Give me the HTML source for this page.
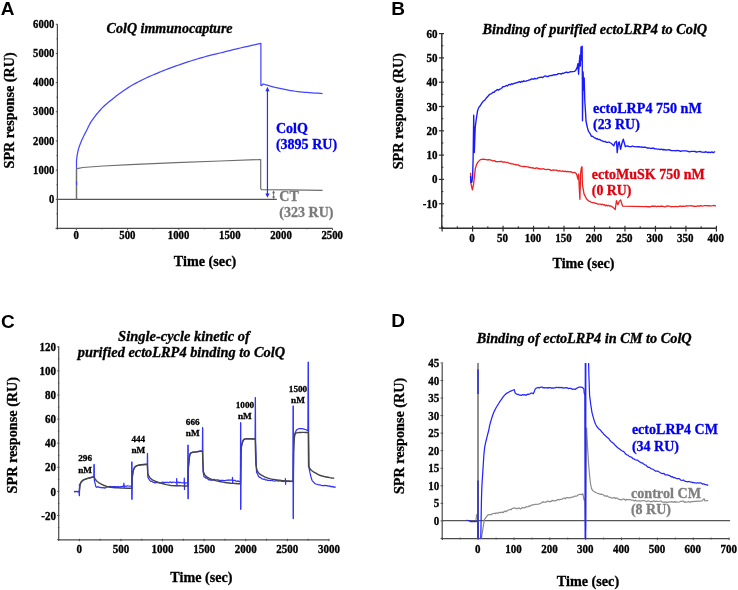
<!DOCTYPE html>
<html><head><meta charset="utf-8"><title>SPR figure</title>
<style>html,body{margin:0;padding:0;background:#fff;}svg{display:block;will-change:transform;}</style></head>
<body><svg width="738" height="590" viewBox="0 0 738 590">
<rect width="738" height="590" fill="#fff"/>
<text x="0.7" y="14.6" font-family='"Liberation Sans", sans-serif' font-size="19" font-weight="bold" fill="#000">A</text>
<line x1="57.4" y1="24.3" x2="57.4" y2="229.6" stroke="#4a4a4a" stroke-width="1.2"/>
<line x1="55.7" y1="228.4" x2="332.5" y2="228.4" stroke="#4a4a4a" stroke-width="1.2"/>
<line x1="55.8" y1="228.47" x2="57.4" y2="228.47" stroke="#4a4a4a" stroke-width="1.0"/>
<line x1="56.5" y1="213.89" x2="57.4" y2="213.89" stroke="#4a4a4a" stroke-width="1.0"/>
<line x1="55.8" y1="199.3" x2="57.4" y2="199.3" stroke="#4a4a4a" stroke-width="1.0"/>
<line x1="56.5" y1="184.72" x2="57.4" y2="184.72" stroke="#4a4a4a" stroke-width="1.0"/>
<line x1="55.8" y1="170.13" x2="57.4" y2="170.13" stroke="#4a4a4a" stroke-width="1.0"/>
<line x1="56.5" y1="155.55" x2="57.4" y2="155.55" stroke="#4a4a4a" stroke-width="1.0"/>
<line x1="55.8" y1="140.96" x2="57.4" y2="140.96" stroke="#4a4a4a" stroke-width="1.0"/>
<line x1="56.5" y1="126.38" x2="57.4" y2="126.38" stroke="#4a4a4a" stroke-width="1.0"/>
<line x1="55.8" y1="111.79" x2="57.4" y2="111.79" stroke="#4a4a4a" stroke-width="1.0"/>
<line x1="56.5" y1="97.21" x2="57.4" y2="97.21" stroke="#4a4a4a" stroke-width="1.0"/>
<line x1="55.8" y1="82.62" x2="57.4" y2="82.62" stroke="#4a4a4a" stroke-width="1.0"/>
<line x1="56.5" y1="68.03" x2="57.4" y2="68.03" stroke="#4a4a4a" stroke-width="1.0"/>
<line x1="55.8" y1="53.45" x2="57.4" y2="53.45" stroke="#4a4a4a" stroke-width="1.0"/>
<line x1="56.5" y1="38.87" x2="57.4" y2="38.87" stroke="#4a4a4a" stroke-width="1.0"/>
<line x1="55.8" y1="24.28" x2="57.4" y2="24.28" stroke="#4a4a4a" stroke-width="1.0"/>
<text x="0" y="0" transform="translate(54.3 202.88) scale(1 1.11)" font-family='"Liberation Serif", serif' font-size="10.6" font-weight="bold" fill="#000" stroke="#000" stroke-width="0.3" text-anchor="end">0</text>
<text x="0" y="0" transform="translate(54.3 173.71) scale(1 1.11)" font-family='"Liberation Serif", serif' font-size="10.6" font-weight="bold" fill="#000" stroke="#000" stroke-width="0.3" text-anchor="end">1000</text>
<text x="0" y="0" transform="translate(54.3 144.54) scale(1 1.11)" font-family='"Liberation Serif", serif' font-size="10.6" font-weight="bold" fill="#000" stroke="#000" stroke-width="0.3" text-anchor="end">2000</text>
<text x="0" y="0" transform="translate(54.3 115.37) scale(1 1.11)" font-family='"Liberation Serif", serif' font-size="10.6" font-weight="bold" fill="#000" stroke="#000" stroke-width="0.3" text-anchor="end">3000</text>
<text x="0" y="0" transform="translate(54.3 86.2) scale(1 1.11)" font-family='"Liberation Serif", serif' font-size="10.6" font-weight="bold" fill="#000" stroke="#000" stroke-width="0.3" text-anchor="end">4000</text>
<text x="0" y="0" transform="translate(54.3 57.03) scale(1 1.11)" font-family='"Liberation Serif", serif' font-size="10.6" font-weight="bold" fill="#000" stroke="#000" stroke-width="0.3" text-anchor="end">5000</text>
<text x="0" y="0" transform="translate(54.3 27.86) scale(1 1.11)" font-family='"Liberation Serif", serif' font-size="10.6" font-weight="bold" fill="#000" stroke="#000" stroke-width="0.3" text-anchor="end">6000</text>
<line x1="76.4" y1="228.4" x2="76.4" y2="230" stroke="#4a4a4a" stroke-width="1.0"/>
<line x1="102.01" y1="228.4" x2="102.01" y2="229.3" stroke="#4a4a4a" stroke-width="1.0"/>
<line x1="127.62" y1="228.4" x2="127.62" y2="230" stroke="#4a4a4a" stroke-width="1.0"/>
<line x1="153.24" y1="228.4" x2="153.24" y2="229.3" stroke="#4a4a4a" stroke-width="1.0"/>
<line x1="178.85" y1="228.4" x2="178.85" y2="230" stroke="#4a4a4a" stroke-width="1.0"/>
<line x1="204.46" y1="228.4" x2="204.46" y2="229.3" stroke="#4a4a4a" stroke-width="1.0"/>
<line x1="230.08" y1="228.4" x2="230.08" y2="230" stroke="#4a4a4a" stroke-width="1.0"/>
<line x1="255.69" y1="228.4" x2="255.69" y2="229.3" stroke="#4a4a4a" stroke-width="1.0"/>
<line x1="281.3" y1="228.4" x2="281.3" y2="230" stroke="#4a4a4a" stroke-width="1.0"/>
<line x1="306.91" y1="228.4" x2="306.91" y2="229.3" stroke="#4a4a4a" stroke-width="1.0"/>
<line x1="332.52" y1="228.4" x2="332.52" y2="230" stroke="#4a4a4a" stroke-width="1.0"/>
<text x="0" y="0" transform="translate(76.1 239.1) scale(1 1.11)" font-family='"Liberation Serif", serif' font-size="10.8" font-weight="bold" fill="#000" stroke="#000" stroke-width="0.3" text-anchor="middle">0</text>
<text x="0" y="0" transform="translate(127.33 239.1) scale(1 1.11)" font-family='"Liberation Serif", serif' font-size="10.8" font-weight="bold" fill="#000" stroke="#000" stroke-width="0.3" text-anchor="middle">500</text>
<text x="0" y="0" transform="translate(178.55 239.1) scale(1 1.11)" font-family='"Liberation Serif", serif' font-size="10.8" font-weight="bold" fill="#000" stroke="#000" stroke-width="0.3" text-anchor="middle">1000</text>
<text x="0" y="0" transform="translate(229.78 239.1) scale(1 1.11)" font-family='"Liberation Serif", serif' font-size="10.8" font-weight="bold" fill="#000" stroke="#000" stroke-width="0.3" text-anchor="middle">1500</text>
<text x="0" y="0" transform="translate(281 239.1) scale(1 1.11)" font-family='"Liberation Serif", serif' font-size="10.8" font-weight="bold" fill="#000" stroke="#000" stroke-width="0.3" text-anchor="middle">2000</text>
<text x="0" y="0" transform="translate(332.22 239.1) scale(1 1.11)" font-family='"Liberation Serif", serif' font-size="10.8" font-weight="bold" fill="#000" stroke="#000" stroke-width="0.3" text-anchor="middle">2500</text>
<line x1="57.4" y1="199.3" x2="276.8" y2="199.3" stroke="#555" stroke-width="1.2"/>
<path d="M76.5 199 L76.5 168 L76.5 160.5 L76.59 159.78 L76.7 158.8 L76.84 157.62 L77.01 156.36 L77.19 155.09 L77.4 153.9 L77.62 152.8 L77.84 151.71 L78.09 150.62 L78.38 149.5 L78.71 148.33 L79.1 147.1 L79.56 145.78 L80.08 144.39 L80.64 142.95 L81.24 141.49 L81.87 140.03 L82.5 138.6 L83.16 137.17 L83.87 135.73 L84.61 134.28 L85.34 132.86 L86.04 131.49 L86.7 130.2 L87.31 128.96 L87.91 127.75 L88.47 126.59 L89.01 125.5 L89.52 124.49 L90 123.6 L90.4 122.88 L90.73 122.33 L91.02 121.88 L91.33 121.42 L91.71 120.89 L92.2 120.2 L92.8 119.34 L93.47 118.39 L94.21 117.36 L95.01 116.27 L95.88 115.14 L96.8 114 L97.81 112.8 L98.91 111.53 L100.07 110.22 L101.26 108.91 L102.45 107.66 L103.6 106.5 L104.69 105.47 L105.73 104.54 L106.77 103.66 L107.85 102.77 L109.01 101.84 L110.3 100.8 L111.72 99.65 L113.23 98.42 L114.82 97.14 L116.49 95.83 L118.22 94.51 L120 93.2 L121.85 91.89 L123.79 90.55 L125.79 89.2 L127.83 87.86 L129.91 86.56 L132 85.3 L134.13 84.08 L136.33 82.89 L138.56 81.73 L140.78 80.61 L142.97 79.53 L145.1 78.5 L147.14 77.54 L149.11 76.65 L151.06 75.8 L153 74.97 L154.97 74.15 L157 73.3 L159.11 72.42 L161.29 71.53 L163.49 70.64 L165.7 69.76 L167.88 68.91 L170 68.1 L172.05 67.34 L174.03 66.63 L175.99 65.94 L177.96 65.27 L179.95 64.59 L182 63.9 L184.13 63.18 L186.33 62.44 L188.56 61.7 L190.78 60.97 L192.97 60.27 L195.1 59.6 L197.14 58.98 L199.11 58.39 L201.06 57.83 L203 57.29 L204.97 56.74 L207 56.2 L209.02 55.68 L210.98 55.19 L212.97 54.7 L215.09 54.19 L217.4 53.64 L220 53 L222.96 52.27 L226.22 51.45 L229.69 50.59 L233.26 49.7 L236.83 48.83 L240.3 48 L243.93 47.16 L247.85 46.27 L251.77 45.39 L255.41 44.58 L258.48 43.9 L260.7 43.4 L260.9 43.4 L260.9 85.4 L261.6 85.6 L263.1 84 L263.8 84.2 L264.78 84.48 L265.98 84.82 L267.3 85.2 L268.73 85.62 L270.32 86.09 L272.07 86.59 L274 87.1 L276.18 87.62 L278.57 88.16 L281.06 88.7 L283.5 89.2 L285.88 89.66 L288.26 90.11 L290.63 90.52 L293 90.9 L295.35 91.25 L297.7 91.56 L300.05 91.85 L302.4 92.1 L304.74 92.31 L307.07 92.47 L309.44 92.63 L311.9 92.8 L314.74 93.01 L317.84 93.24 L320.65 93.45 L322.6 93.6" fill="none" stroke="#4646ff" stroke-width="1.25" stroke-linejoin="round" stroke-linecap="butt" />
<path d="M76.5 199.3 L76.5 169 L78.5 168.3 L82.8 167.5 L103.1 166 L130.2 164.6 L176 162.6 L220 161 L260.7 159.5 L260.7 188.6 L261.5 189.6 L290 189.9 L322.6 190.4" fill="none" stroke="#6e6e6e" stroke-width="1.2" stroke-linejoin="round" stroke-linecap="butt" />
<line x1="76.5" y1="181" x2="76.5" y2="184.8" stroke="#4646ff" stroke-width="1.2"/>
<line x1="267.45" y1="90" x2="267.45" y2="194.5" stroke="#2b2bff" stroke-width="1.2"/>
<polygon points="267.45,86.8 265.4,91.2 269.5,91.2" fill="#2b2bff"/>
<polygon points="267.45,197.8 265.3,193.6 269.6,193.6" fill="#2b2bff"/>
<line x1="273.6" y1="191.5" x2="273.6" y2="198.3" stroke="#666" stroke-width="0.9"/>
<polygon points="273.6,190.6 272.1,193.2 275.1,193.2" fill="#666"/>
<polygon points="273.6,199.0 272.1,196.4 275.1,196.4" fill="#666"/>
<text x="106.6" y="33.2" font-family='"Liberation Serif", serif' font-size="14" font-weight="bold" fill="#000" stroke="#000" stroke-width="0.3" font-style="italic" textLength="126" lengthAdjust="spacingAndGlyphs">ColQ immunocapture</text>
<text x="275.9" y="133.2" font-family='"Liberation Serif", serif' font-size="14" font-weight="bold" fill="#0000f0" stroke="#0000f0" stroke-width="0.3">ColQ</text>
<text x="275.9" y="149.3" font-family='"Liberation Serif", serif' font-size="14" font-weight="bold" fill="#0000f0" stroke="#0000f0" stroke-width="0.3" textLength="61.2" lengthAdjust="spacingAndGlyphs">(3895 RU)</text>
<text x="279.3" y="200.8" font-family='"Liberation Serif", serif' font-size="14" font-weight="bold" fill="#7a7a7a" stroke="#7a7a7a" stroke-width="0.3">CT</text>
<text x="279.3" y="217" font-family='"Liberation Serif", serif' font-size="14" font-weight="bold" fill="#7a7a7a" stroke="#7a7a7a" stroke-width="0.3" textLength="54.2" lengthAdjust="spacingAndGlyphs">(323 RU)</text>
<text x="173.8" y="266" font-family='"Liberation Serif", serif' font-size="14.2" font-weight="bold" fill="#000" stroke="#000" stroke-width="0.3" textLength="62.4" lengthAdjust="spacingAndGlyphs">Time (sec)</text>
<text x="14.4" y="168.4" font-family='"Liberation Serif", serif' font-size="14.2" font-weight="bold" fill="#000" stroke="#000" stroke-width="0.3" textLength="116" lengthAdjust="spacingAndGlyphs" transform="rotate(-90 14.4 168.4)">SPR response (RU)</text>
<text x="391.2" y="14.6" font-family='"Liberation Sans", sans-serif' font-size="19" font-weight="bold" fill="#000">B</text>
<line x1="441.8" y1="33.6" x2="441.8" y2="228.8" stroke="#2e2e2e" stroke-width="1.4"/>
<line x1="441" y1="228.2" x2="716.1" y2="228.2" stroke="#2e2e2e" stroke-width="1.4"/>
<line x1="438.9" y1="228.05" x2="444" y2="228.05" stroke="#2e2e2e" stroke-width="1.2"/>
<line x1="441.8" y1="215.89" x2="443.3" y2="215.89" stroke="#2e2e2e" stroke-width="1.1"/>
<line x1="438.9" y1="203.74" x2="444" y2="203.74" stroke="#2e2e2e" stroke-width="1.2"/>
<line x1="441.8" y1="191.58" x2="443.3" y2="191.58" stroke="#2e2e2e" stroke-width="1.1"/>
<line x1="438.9" y1="179.43" x2="444" y2="179.43" stroke="#2e2e2e" stroke-width="1.2"/>
<line x1="441.8" y1="167.28" x2="443.3" y2="167.28" stroke="#2e2e2e" stroke-width="1.1"/>
<line x1="438.9" y1="155.12" x2="444" y2="155.12" stroke="#2e2e2e" stroke-width="1.2"/>
<line x1="441.8" y1="142.97" x2="443.3" y2="142.97" stroke="#2e2e2e" stroke-width="1.1"/>
<line x1="438.9" y1="130.81" x2="444" y2="130.81" stroke="#2e2e2e" stroke-width="1.2"/>
<line x1="441.8" y1="118.66" x2="443.3" y2="118.66" stroke="#2e2e2e" stroke-width="1.1"/>
<line x1="438.9" y1="106.51" x2="444" y2="106.51" stroke="#2e2e2e" stroke-width="1.2"/>
<line x1="441.8" y1="94.35" x2="443.3" y2="94.35" stroke="#2e2e2e" stroke-width="1.1"/>
<line x1="438.9" y1="82.2" x2="444" y2="82.2" stroke="#2e2e2e" stroke-width="1.2"/>
<line x1="441.8" y1="70.04" x2="443.3" y2="70.04" stroke="#2e2e2e" stroke-width="1.1"/>
<line x1="438.9" y1="57.89" x2="444" y2="57.89" stroke="#2e2e2e" stroke-width="1.2"/>
<line x1="441.8" y1="45.74" x2="443.3" y2="45.74" stroke="#2e2e2e" stroke-width="1.1"/>
<line x1="438.9" y1="33.58" x2="444" y2="33.58" stroke="#2e2e2e" stroke-width="1.2"/>
<text x="0" y="0" transform="translate(437.5 207.76) scale(1 1.11)" font-family='"Liberation Serif", serif' font-size="11" font-weight="bold" fill="#000" stroke="#000" stroke-width="0.3" text-anchor="end">-10</text>
<text x="0" y="0" transform="translate(437.5 183.46) scale(1 1.11)" font-family='"Liberation Serif", serif' font-size="11" font-weight="bold" fill="#000" stroke="#000" stroke-width="0.3" text-anchor="end">0</text>
<text x="0" y="0" transform="translate(437.5 159.15) scale(1 1.11)" font-family='"Liberation Serif", serif' font-size="11" font-weight="bold" fill="#000" stroke="#000" stroke-width="0.3" text-anchor="end">10</text>
<text x="0" y="0" transform="translate(437.5 134.84) scale(1 1.11)" font-family='"Liberation Serif", serif' font-size="11" font-weight="bold" fill="#000" stroke="#000" stroke-width="0.3" text-anchor="end">20</text>
<text x="0" y="0" transform="translate(437.5 110.53) scale(1 1.11)" font-family='"Liberation Serif", serif' font-size="11" font-weight="bold" fill="#000" stroke="#000" stroke-width="0.3" text-anchor="end">30</text>
<text x="0" y="0" transform="translate(437.5 86.22) scale(1 1.11)" font-family='"Liberation Serif", serif' font-size="11" font-weight="bold" fill="#000" stroke="#000" stroke-width="0.3" text-anchor="end">40</text>
<text x="0" y="0" transform="translate(437.5 61.92) scale(1 1.11)" font-family='"Liberation Serif", serif' font-size="11" font-weight="bold" fill="#000" stroke="#000" stroke-width="0.3" text-anchor="end">50</text>
<text x="0" y="0" transform="translate(437.5 37.61) scale(1 1.11)" font-family='"Liberation Serif", serif' font-size="11" font-weight="bold" fill="#000" stroke="#000" stroke-width="0.3" text-anchor="end">60</text>
<line x1="442.1" y1="225.8" x2="442.1" y2="231.6" stroke="#2e2e2e" stroke-width="1.2"/>
<line x1="457.34" y1="226.2" x2="457.34" y2="228.2" stroke="#2e2e2e" stroke-width="1.1"/>
<line x1="472.58" y1="225.8" x2="472.58" y2="231.6" stroke="#2e2e2e" stroke-width="1.2"/>
<line x1="487.82" y1="226.2" x2="487.82" y2="228.2" stroke="#2e2e2e" stroke-width="1.1"/>
<line x1="503.06" y1="225.8" x2="503.06" y2="231.6" stroke="#2e2e2e" stroke-width="1.2"/>
<line x1="518.3" y1="226.2" x2="518.3" y2="228.2" stroke="#2e2e2e" stroke-width="1.1"/>
<line x1="533.54" y1="225.8" x2="533.54" y2="231.6" stroke="#2e2e2e" stroke-width="1.2"/>
<line x1="548.78" y1="226.2" x2="548.78" y2="228.2" stroke="#2e2e2e" stroke-width="1.1"/>
<line x1="564.02" y1="225.8" x2="564.02" y2="231.6" stroke="#2e2e2e" stroke-width="1.2"/>
<line x1="579.25" y1="226.2" x2="579.25" y2="228.2" stroke="#2e2e2e" stroke-width="1.1"/>
<line x1="594.49" y1="225.8" x2="594.49" y2="231.6" stroke="#2e2e2e" stroke-width="1.2"/>
<line x1="609.73" y1="226.2" x2="609.73" y2="228.2" stroke="#2e2e2e" stroke-width="1.1"/>
<line x1="624.97" y1="225.8" x2="624.97" y2="231.6" stroke="#2e2e2e" stroke-width="1.2"/>
<line x1="640.21" y1="226.2" x2="640.21" y2="228.2" stroke="#2e2e2e" stroke-width="1.1"/>
<line x1="655.45" y1="225.8" x2="655.45" y2="231.6" stroke="#2e2e2e" stroke-width="1.2"/>
<line x1="670.69" y1="226.2" x2="670.69" y2="228.2" stroke="#2e2e2e" stroke-width="1.1"/>
<line x1="685.93" y1="225.8" x2="685.93" y2="231.6" stroke="#2e2e2e" stroke-width="1.2"/>
<line x1="701.17" y1="226.2" x2="701.17" y2="228.2" stroke="#2e2e2e" stroke-width="1.1"/>
<line x1="716.41" y1="225.8" x2="716.41" y2="231.6" stroke="#2e2e2e" stroke-width="1.2"/>
<text x="0" y="0" transform="translate(471.98 242.1) scale(1 1.11)" font-family='"Liberation Serif", serif' font-size="11" font-weight="bold" fill="#000" stroke="#000" stroke-width="0.3" text-anchor="middle">0</text>
<text x="0" y="0" transform="translate(502.46 242.1) scale(1 1.11)" font-family='"Liberation Serif", serif' font-size="11" font-weight="bold" fill="#000" stroke="#000" stroke-width="0.3" text-anchor="middle">50</text>
<text x="0" y="0" transform="translate(532.94 242.1) scale(1 1.11)" font-family='"Liberation Serif", serif' font-size="11" font-weight="bold" fill="#000" stroke="#000" stroke-width="0.3" text-anchor="middle">100</text>
<text x="0" y="0" transform="translate(563.42 242.1) scale(1 1.11)" font-family='"Liberation Serif", serif' font-size="11" font-weight="bold" fill="#000" stroke="#000" stroke-width="0.3" text-anchor="middle">150</text>
<text x="0" y="0" transform="translate(593.89 242.1) scale(1 1.11)" font-family='"Liberation Serif", serif' font-size="11" font-weight="bold" fill="#000" stroke="#000" stroke-width="0.3" text-anchor="middle">200</text>
<text x="0" y="0" transform="translate(624.37 242.1) scale(1 1.11)" font-family='"Liberation Serif", serif' font-size="11" font-weight="bold" fill="#000" stroke="#000" stroke-width="0.3" text-anchor="middle">250</text>
<text x="0" y="0" transform="translate(654.85 242.1) scale(1 1.11)" font-family='"Liberation Serif", serif' font-size="11" font-weight="bold" fill="#000" stroke="#000" stroke-width="0.3" text-anchor="middle">300</text>
<text x="0" y="0" transform="translate(685.33 242.1) scale(1 1.11)" font-family='"Liberation Serif", serif' font-size="11" font-weight="bold" fill="#000" stroke="#000" stroke-width="0.3" text-anchor="middle">350</text>
<text x="0" y="0" transform="translate(715.81 242.1) scale(1 1.11)" font-family='"Liberation Serif", serif' font-size="11" font-weight="bold" fill="#000" stroke="#000" stroke-width="0.3" text-anchor="middle">400</text>
<path d="M470.2 173 L470.7 173.7 L471 183.9 L472.4 189.8 L473.6 183.9 L475.3 168.6 L475.3 168.6 L476.5 164.76 L477.7 162.39 L478.9 161.12 L480.1 159.82 L481.3 159.47 L482.5 159.41 L483.7 159.02 L484.9 159.4 L486.1 159.65 L487.3 159.96 L488.5 159.52 L489.7 159.91 L490.9 159.95 L492.1 160.83 L493.3 160.94 L494.5 160.55 L495.7 161.57 L496.9 161.73 L498.1 161.6 L499.3 161.72 L500.5 161.46 L501.7 161.49 L502.9 162.12 L504.1 161.88 L505.3 162.19 L506.5 162.45 L507.7 162.47 L508.9 163.1 L510.1 163.31 L511.3 163.92 L512.5 163.87 L513.7 164.23 L514.9 164.36 L516.1 164.77 L517.3 164.86 L518.5 164.99 L519.7 165.93 L520.9 166.21 L522.1 166.36 L523.3 166.52 L524.5 166.41 L525.7 166.58 L526.9 166.84 L528.1 166.83 L529.3 167.63 L530.5 167.45 L531.7 168 L532.9 167.73 L534.1 168.38 L535.3 168.42 L536.5 167.79 L537.7 168.12 L538.9 168.9 L540.1 168.64 L541.3 169.24 L542.5 168.86 L543.7 168.7 L544.9 169.34 L546.1 169.62 L547.3 169.3 L548.5 169.28 L549.7 169.64 L550.9 170.36 L552.1 170.32 L553.3 169.89 L554.5 170.15 L555.7 170.16 L556.9 170.27 L558.1 171.07 L559.3 170.64 L560.5 171.11 L561.7 171.13 L562.9 171.02 L564.1 171.63 L565.3 171.2 L566.5 171.78 L567.7 171.42 L568.9 171.8 L570.1 171.73 L571.3 171.88 L572.5 172.59 L573.7 172.53 L574.9 172.38 L576.1 173.64 L576.5 173.6 L577.9 179 L578.6 174.2 L579.4 190 L579.9 199.3 L580.6 173.6 L581.3 168.1 L582 166.8 L582.4 184.4 L584 193.9 L586.7 199.3 L589.4 201.4 L589.4 201.4 L590.4 201.74 L591.4 202.3 L592.4 202.68 L593.4 202.52 L594.4 202.76 L595.4 203.35 L596.4 203.38 L597.4 204.04 L598.4 204.05 L599.4 204.09 L600.4 204.18 L601.4 204.53 L602.4 204.25 L603.4 204.79 L604.4 204.75 L605.4 205.73 L606.4 205.05 L607.4 205.94 L608.4 205.32 L609.4 206.07 L610.4 205.85 L611.1 206.1 L613.8 208.1 L615.2 209.5 L616.5 200.7 L617.9 204.7 L619.2 201.4 L620.6 200 L622.6 206.1 L645 206.6 L646.3 206.35 L647.6 206.76 L648.9 206.75 L650.2 206.91 L651.5 206.23 L652.8 206.27 L654.1 206.17 L655.4 206.24 L656.7 206.74 L658 206.13 L659.3 206.52 L660.6 206.19 L661.9 206.26 L663.2 206.39 L664.5 206.78 L665.8 206.54 L667.1 205.94 L668.4 206.19 L669.7 206.05 L671 206.75 L672.3 206.66 L673.6 206.63 L674.9 206.63 L676.2 206.52 L677.5 206.7 L678.8 206.52 L680.1 205.95 L681.4 206.52 L682.7 206.13 L684 206.38 L685.3 206.16 L686.6 206 L687.9 205.91 L689.2 205.95 L690.5 205.81 L691.8 205.6 L693.1 206.3 L694.4 206.26 L695.7 206.44 L697 206.14 L698.3 205.99 L699.6 206.17 L700.9 205.55 L702.2 206.08 L703.5 205.84 L704.8 205.56 L706.1 205.58 L707.4 205.89 L708.7 205.61 L710 205.81 L711.3 205.94 L712.6 205.72 L713.9 205.45 L715.2 205.8 L716 205.8" fill="none" stroke="#ee2020" stroke-width="1.3" stroke-linejoin="round" stroke-linecap="butt" />
<path d="M470.5 176 L470.9 182.5 L471.9 182.2 L472.6 176 L473.1 160 L473.7 115.1 L474.3 152.5 L475.2 128 L475.9 121.7 L477.6 110.7 L477.6 110.7 L478.7 107.64 L479.8 106.26 L480.9 104.61 L482 102.98 L483.1 101.27 L484.2 100.65 L485.3 99.44 L486.4 97.91 L487.5 96.84 L488.6 95.51 L489.7 94.29 L490.8 93.91 L491.9 93.42 L493 92.1 L494.1 92.31 L495.2 91 L496.3 90.37 L497.4 89.55 L498.5 90.11 L499.6 89.22 L500.7 88.83 L501.8 87.99 L502.9 86.76 L504 86.61 L505.1 86.34 L506.2 85.42 L507.3 85.98 L508.4 84.91 L509.5 84.29 L510.6 84.72 L511.7 83.6 L512.8 84.28 L513.9 83.42 L515 83.29 L516.1 82.78 L517.2 82.7 L518.3 82.09 L519.4 81.65 L520.5 82.39 L521.6 81.36 L522.7 81.74 L523.8 80.78 L524.9 81.42 L526 81.06 L527.1 80.63 L528.2 80.38 L529.3 79.9 L530.4 79.82 L531.5 78.84 L532.6 79.03 L533.7 79.2 L534.8 78.22 L535.9 78.86 L537 78.59 L538.1 77.8 L539.2 77.54 L540.3 77.43 L541.4 77.15 L542.5 77.67 L543.6 76.74 L544.7 76.11 L545.8 75.98 L546.9 76.53 L548 76.65 L549.1 75.85 L550.2 75.64 L551.3 75.51 L552.4 75.54 L553.5 74.71 L554.6 74.97 L555.7 74.7 L556.8 74.58 L557.9 73.85 L559 73.63 L560.1 73.64 L561.2 74.13 L562.3 73.23 L563.4 73.32 L564.5 72.77 L565.6 72.31 L566.7 72.05 L567.8 72.72 L568.9 72.44 L570 71.72 L571.1 71.84 L572.2 71.58 L573.3 71.6 L574.4 71.42 L575.5 70.51 L575.6 70.6 L577.3 67 L577.9 63.6 L578.6 74.3 L579.3 62 L579.9 55.3 L580.4 66 L581 46.9 L581.5 60 L582.2 46.1 L582.5 120.8 L583.1 72 L583.6 90 L584.2 78 L584.8 101 L585.5 111.7 L586 121 L586.6 124 L587.4 127.6 L587.4 127.6 L588.4 131 L589.4 132.64 L590.4 134.11 L591.4 136.24 L592.4 136.28 L593.4 136.86 L594.4 137.88 L595.4 138.01 L596.4 138.96 L597.4 138.65 L598.4 139.67 L599.4 139.33 L600.4 139.94 L601.4 140.67 L602.4 140.82 L603.4 141.48 L604.4 141.65 L605.4 141.34 L606.4 142.43 L607.4 142.34 L608.4 142.17 L609.4 142.16 L609.7 142.5 L611.5 143.5 L613.8 145.9 L615 142.5 L616.5 141.2 L617.2 152.7 L618.4 143 L619.2 141.9 L620.6 149.3 L622 143 L623.3 139.2 L625.3 146.6 L627.4 145.9 L627.4 145.9 L628.7 146.46 L630 146.61 L631.3 146.69 L632.6 146.01 L633.9 146.65 L635.2 146.61 L636.5 146.84 L637.8 146.57 L639.1 146.76 L640.4 147.13 L641.7 147.01 L643 147.36 L644.3 147.06 L645.6 147.25 L646.9 148.01 L648.2 147.86 L649.5 148.09 L650.8 148.45 L652.1 148.22 L653.4 148.05 L654.7 148.92 L656 148.86 L657.3 149.07 L658.6 149.17 L659.9 149.66 L661.2 149.19 L662.5 149.73 L663.8 149.48 L665.1 149.82 L666.4 150.04 L667.7 149.83 L669 149.74 L670.3 150.25 L671.6 150.61 L672.9 150.59 L674.2 150.56 L675.5 150.85 L676.8 150.48 L678.1 150.57 L679.4 150.79 L680.7 151.36 L682 150.81 L683.3 150.81 L684.6 150.85 L685.9 150.85 L687.2 151.15 L688.5 151.51 L689.8 151.81 L691.1 151.37 L692.4 151.45 L693.7 151.42 L695 151.48 L696.3 152 L697.6 151.82 L698.9 151.57 L700.2 151.46 L701.5 152.18 L702.8 152.14 L704.1 152.3 L705.4 151.75 L706.7 152.1 L708 152.51 L709.3 152.22 L710.6 152.61 L711.9 151.87 L713.2 152.72 L714.5 151.84 L715 152.3" fill="none" stroke="#1a1aff" stroke-width="1.35" stroke-linejoin="round" stroke-linecap="butt" />
<text x="482.5" y="33.6" font-family='"Liberation Serif", serif' font-size="14.3" font-weight="bold" fill="#000" stroke="#000" stroke-width="0.3" font-style="italic" textLength="224.7" lengthAdjust="spacingAndGlyphs">Binding of purified ectoLRP4 to ColQ</text>
<text x="593" y="113.3" font-family='"Liberation Serif", serif' font-size="14" font-weight="bold" fill="#0000ee" stroke="#0000ee" stroke-width="0.3" textLength="108.7" lengthAdjust="spacingAndGlyphs">ectoLRP4 750 nM</text>
<text x="593" y="128.9" font-family='"Liberation Serif", serif' font-size="14" font-weight="bold" fill="#0000ee" stroke="#0000ee" stroke-width="0.3" textLength="46.8" lengthAdjust="spacingAndGlyphs">(23 RU)</text>
<text x="591.8" y="178.7" font-family='"Liberation Serif", serif' font-size="14" font-weight="bold" fill="#e0000f" stroke="#e0000f" stroke-width="0.3" textLength="112.9" lengthAdjust="spacingAndGlyphs">ectoMuSK 750 nM</text>
<text x="591.8" y="194.7" font-family='"Liberation Serif", serif' font-size="14" font-weight="bold" fill="#e0000f" stroke="#e0000f" stroke-width="0.3" textLength="39.7" lengthAdjust="spacingAndGlyphs">(0 RU)</text>
<text x="552.5" y="267.8" font-family='"Liberation Serif", serif' font-size="14.2" font-weight="bold" fill="#000" stroke="#000" stroke-width="0.3" textLength="62" lengthAdjust="spacingAndGlyphs">Time (sec)</text>
<text x="403" y="169.3" font-family='"Liberation Serif", serif' font-size="14.2" font-weight="bold" fill="#000" stroke="#000" stroke-width="0.3" textLength="116.3" lengthAdjust="spacingAndGlyphs" transform="rotate(-90 403 169.3)">SPR response (RU)</text>
<text x="0.9" y="327.8" font-family='"Liberation Sans", sans-serif' font-size="19" font-weight="bold" fill="#000">C</text>
<line x1="58.7" y1="346.8" x2="58.7" y2="540.6" stroke="#4a4a4a" stroke-width="1.2"/>
<line x1="57.9" y1="539.8" x2="329.2" y2="539.8" stroke="#4a4a4a" stroke-width="1.2"/>
<line x1="57.2" y1="539.6" x2="59.3" y2="539.6" stroke="#4a4a4a" stroke-width="1.0"/>
<line x1="57.9" y1="527.55" x2="59.3" y2="527.55" stroke="#4a4a4a" stroke-width="1.0"/>
<line x1="57.2" y1="515.5" x2="59.3" y2="515.5" stroke="#4a4a4a" stroke-width="1.0"/>
<line x1="57.9" y1="503.45" x2="59.3" y2="503.45" stroke="#4a4a4a" stroke-width="1.0"/>
<line x1="57.2" y1="491.4" x2="59.3" y2="491.4" stroke="#4a4a4a" stroke-width="1.0"/>
<line x1="57.9" y1="479.35" x2="59.3" y2="479.35" stroke="#4a4a4a" stroke-width="1.0"/>
<line x1="57.2" y1="467.3" x2="59.3" y2="467.3" stroke="#4a4a4a" stroke-width="1.0"/>
<line x1="57.9" y1="455.25" x2="59.3" y2="455.25" stroke="#4a4a4a" stroke-width="1.0"/>
<line x1="57.2" y1="443.2" x2="59.3" y2="443.2" stroke="#4a4a4a" stroke-width="1.0"/>
<line x1="57.9" y1="431.15" x2="59.3" y2="431.15" stroke="#4a4a4a" stroke-width="1.0"/>
<line x1="57.2" y1="419.1" x2="59.3" y2="419.1" stroke="#4a4a4a" stroke-width="1.0"/>
<line x1="57.9" y1="407.05" x2="59.3" y2="407.05" stroke="#4a4a4a" stroke-width="1.0"/>
<line x1="57.2" y1="395" x2="59.3" y2="395" stroke="#4a4a4a" stroke-width="1.0"/>
<line x1="57.9" y1="382.95" x2="59.3" y2="382.95" stroke="#4a4a4a" stroke-width="1.0"/>
<line x1="57.2" y1="370.9" x2="59.3" y2="370.9" stroke="#4a4a4a" stroke-width="1.0"/>
<line x1="57.9" y1="358.85" x2="59.3" y2="358.85" stroke="#4a4a4a" stroke-width="1.0"/>
<line x1="57.2" y1="346.8" x2="59.3" y2="346.8" stroke="#4a4a4a" stroke-width="1.0"/>
<text x="0" y="0" transform="translate(55.9 519.63) scale(1 1.11)" font-family='"Liberation Serif", serif' font-size="11" font-weight="bold" fill="#000" stroke="#000" stroke-width="0.3" text-anchor="end">-20</text>
<text x="0" y="0" transform="translate(55.9 495.53) scale(1 1.11)" font-family='"Liberation Serif", serif' font-size="11" font-weight="bold" fill="#000" stroke="#000" stroke-width="0.3" text-anchor="end">0</text>
<text x="0" y="0" transform="translate(55.9 471.43) scale(1 1.11)" font-family='"Liberation Serif", serif' font-size="11" font-weight="bold" fill="#000" stroke="#000" stroke-width="0.3" text-anchor="end">20</text>
<text x="0" y="0" transform="translate(55.9 447.33) scale(1 1.11)" font-family='"Liberation Serif", serif' font-size="11" font-weight="bold" fill="#000" stroke="#000" stroke-width="0.3" text-anchor="end">40</text>
<text x="0" y="0" transform="translate(55.9 423.23) scale(1 1.11)" font-family='"Liberation Serif", serif' font-size="11" font-weight="bold" fill="#000" stroke="#000" stroke-width="0.3" text-anchor="end">60</text>
<text x="0" y="0" transform="translate(55.9 399.13) scale(1 1.11)" font-family='"Liberation Serif", serif' font-size="11" font-weight="bold" fill="#000" stroke="#000" stroke-width="0.3" text-anchor="end">80</text>
<text x="0" y="0" transform="translate(55.9 375.03) scale(1 1.11)" font-family='"Liberation Serif", serif' font-size="11" font-weight="bold" fill="#000" stroke="#000" stroke-width="0.3" text-anchor="end">100</text>
<text x="0" y="0" transform="translate(55.9 350.93) scale(1 1.11)" font-family='"Liberation Serif", serif' font-size="11" font-weight="bold" fill="#000" stroke="#000" stroke-width="0.3" text-anchor="end">120</text>
<line x1="58.55" y1="538.8" x2="58.55" y2="540.5" stroke="#4a4a4a" stroke-width="1.0"/>
<line x1="79.35" y1="538.8" x2="79.35" y2="541.2" stroke="#4a4a4a" stroke-width="1.0"/>
<line x1="100.15" y1="538.8" x2="100.15" y2="540.5" stroke="#4a4a4a" stroke-width="1.0"/>
<line x1="120.95" y1="538.8" x2="120.95" y2="541.2" stroke="#4a4a4a" stroke-width="1.0"/>
<line x1="141.75" y1="538.8" x2="141.75" y2="540.5" stroke="#4a4a4a" stroke-width="1.0"/>
<line x1="162.55" y1="538.8" x2="162.55" y2="541.2" stroke="#4a4a4a" stroke-width="1.0"/>
<line x1="183.35" y1="538.8" x2="183.35" y2="540.5" stroke="#4a4a4a" stroke-width="1.0"/>
<line x1="204.15" y1="538.8" x2="204.15" y2="541.2" stroke="#4a4a4a" stroke-width="1.0"/>
<line x1="224.95" y1="538.8" x2="224.95" y2="540.5" stroke="#4a4a4a" stroke-width="1.0"/>
<line x1="245.75" y1="538.8" x2="245.75" y2="541.2" stroke="#4a4a4a" stroke-width="1.0"/>
<line x1="266.55" y1="538.8" x2="266.55" y2="540.5" stroke="#4a4a4a" stroke-width="1.0"/>
<line x1="287.35" y1="538.8" x2="287.35" y2="541.2" stroke="#4a4a4a" stroke-width="1.0"/>
<line x1="308.15" y1="538.8" x2="308.15" y2="540.5" stroke="#4a4a4a" stroke-width="1.0"/>
<line x1="328.95" y1="538.8" x2="328.95" y2="541.2" stroke="#4a4a4a" stroke-width="1.0"/>
<text x="0" y="0" transform="translate(79.35 553.4) scale(1 1.11)" font-family='"Liberation Serif", serif' font-size="11" font-weight="bold" fill="#000" stroke="#000" stroke-width="0.3" text-anchor="middle">0</text>
<text x="0" y="0" transform="translate(120.95 553.4) scale(1 1.11)" font-family='"Liberation Serif", serif' font-size="11" font-weight="bold" fill="#000" stroke="#000" stroke-width="0.3" text-anchor="middle">500</text>
<text x="0" y="0" transform="translate(162.55 553.4) scale(1 1.11)" font-family='"Liberation Serif", serif' font-size="11" font-weight="bold" fill="#000" stroke="#000" stroke-width="0.3" text-anchor="middle">1000</text>
<text x="0" y="0" transform="translate(204.15 553.4) scale(1 1.11)" font-family='"Liberation Serif", serif' font-size="11" font-weight="bold" fill="#000" stroke="#000" stroke-width="0.3" text-anchor="middle">1500</text>
<text x="0" y="0" transform="translate(245.75 553.4) scale(1 1.11)" font-family='"Liberation Serif", serif' font-size="11" font-weight="bold" fill="#000" stroke="#000" stroke-width="0.3" text-anchor="middle">2000</text>
<text x="0" y="0" transform="translate(287.35 553.4) scale(1 1.11)" font-family='"Liberation Serif", serif' font-size="11" font-weight="bold" fill="#000" stroke="#000" stroke-width="0.3" text-anchor="middle">2500</text>
<text x="0" y="0" transform="translate(328.95 553.4) scale(1 1.11)" font-family='"Liberation Serif", serif' font-size="11" font-weight="bold" fill="#000" stroke="#000" stroke-width="0.3" text-anchor="middle">3000</text>
<path d="M74 491.7 L75 491.42 L76 491.66 L77 491.3 L78 491.94 L79 491.6 L79.4 495.7 L79.6 488 L79.8 486 L79.83 485.6 L79.88 485.04 L79.98 484.38 L80.2 483.7 L80.56 482.96 L81.03 482.15 L81.59 481.36 L82.2 480.7 L82.85 480.22 L83.56 479.86 L84.37 479.55 L85.3 479.2 L86.45 478.79 L87.77 478.36 L89.1 477.95 L90.3 477.6 L91.38 477.32 L92.41 477.1 L93.29 476.93 L93.9 476.8 L94.1 464.4 L94.3 480 L94.9 482.7 L95.9 486.8 L96.9 487.39 L97.9 486.57 L98.9 487.35 L99.9 487.22 L100.9 487.8 L101.9 487.43 L102.9 488.11 L103.9 487.45 L104.9 488.24 L105.9 487.46 L106.9 486.93 L107.9 486.8 L108.9 486.93 L109.9 486.35 L110.9 486.82 L111.9 486.5 L112.9 486.56 L113.9 486.59 L114.9 486.58 L115.9 486.54 L116.9 486.96 L117.9 486.5 L118.9 486.85 L119.9 486.79 L120.9 486.7 L121.9 486.65 L122.9 486.16 L123.6 486 L123.9 483.2 L124.2 488 L124.5 486 L124.5 486 L125.5 486.07 L126.5 486.3 L127.5 485.82 L128.5 486.03 L129.5 486.29 L130.5 485.99 L131.5 486.32 L131.6 486.1 L131.8 461.9 L131.95 499.3 L132.2 478 L132.6 474.7 L132.74 473.8 L132.93 472.51 L133.18 471.11 L133.5 469.9 L133.86 468.92 L134.27 468.03 L134.77 467.25 L135.4 466.6 L136.19 466.12 L137.12 465.78 L138.14 465.52 L139.2 465.3 L140.36 465.11 L141.63 464.98 L142.88 464.89 L144 464.8 L145.01 464.72 L145.95 464.67 L146.74 464.63 L147.3 464.6 L147.5 453.3 L147.7 470 L147.9 477.5 L149.7 480.4 L150.7 481.39 L151.7 481.16 L152.7 482.06 L153.7 482.32 L154.7 482.99 L155.7 482.52 L156.7 482.63 L157.7 482.77 L158.7 482.56 L159.7 483.01 L160.7 482.86 L161.7 482.6 L162.7 481.87 L163.7 482.78 L164.7 482.32 L165.7 482.37 L166.7 482.31 L167.7 482.28 L168.7 482.7 L169.7 482.05 L170.7 481.93 L171.7 482.79 L172.7 482.07 L173.7 482.1 L174.7 482.28 L175.7 482.77 L176.5 482.4 L176.7 478.5 L176.9 485.6 L177.1 482.4 L177.1 482.4 L178.1 482.02 L179.1 482.92 L180.1 482.15 L181.1 482.77 L182.1 482.89 L183.1 482.82 L184.1 482.6 L184.3 478 L184.5 489.4 L184.7 482.6 L184.7 482.6 L185.7 483.04 L186.7 482.78 L187.7 482.77 L187.8 482.8 L188 445.1 L188.15 498.7 L188.3 472 L188.4 467.5 L188.61 465.09 L188.92 461.57 L189.29 457.97 L189.7 455.3 L190.12 453.91 L190.57 453.23 L191.12 452.91 L191.8 452.6 L192.65 452.29 L193.64 452.14 L194.74 452.04 L195.9 451.9 L197.26 451.67 L198.79 451.42 L200.22 451.18 L201.3 451 L201.9 450.9 L202.19 450.84 L202.3 450.82 L202.4 450.8 L202.6 427.5 L202.8 460 L203.2 472 L204 477 L204 477 L205 477.11 L206 478.23 L207 478.2 L208 479.19 L209 480.03 L210 479.58 L211 480.33 L212 479.94 L213 480.1 L214 479.23 L215 479.95 L216 479.79 L217 479.94 L218 479.79 L219 480.47 L220 480.22 L221 480.37 L222 480.39 L223 480.33 L224 480.64 L225 480.49 L226 480.46 L227 480.01 L228 480.39 L229 479.9 L230 480.24 L231 479.97 L232 480.2 L232.3 479.9 L232.5 477.3 L232.7 483 L232.9 480 L232.9 480 L233.9 480.35 L234.9 480.24 L235.9 480.94 L236.9 481.51 L237.9 480.87 L238.9 481.54 L239.9 481.5 L240.4 481.6 L240.6 422.7 L240.75 509.3 L241 452 L241.5 446 L241.82 444.81 L242.28 443.07 L242.82 441.3 L243.4 440 L243.93 439.35 L244.45 439.07 L245.15 438.98 L246.2 438.9 L247.89 438.83 L250.03 438.86 L252.14 438.9 L253.7 438.9 L254.53 438.82 L254.92 438.7 L255.07 438.58 L255.2 438.5 L255.4 397.5 L255.6 440 L256.5 472.1 L256.5 472.1 L257.5 473.92 L258.5 476.23 L259.5 477.35 L260.5 477.27 L261.5 478.57 L262.5 478.92 L263.5 479.3 L264.5 479.03 L265.5 480.03 L266.5 479.84 L267.5 480.36 L268.5 480.23 L269.5 480.51 L270.5 480.56 L271.5 480.29 L272.5 480.67 L273.5 481.02 L274.5 481.02 L275.5 481.1 L276.5 480.44 L277.5 480.99 L278.5 481.23 L279.5 480.8 L280.5 480.63 L281.5 481.31 L282.5 481.19 L283.5 481.59 L284.5 480.97 L285.2 481.2 L285.4 478.7 L285.6 484.3 L285.8 481.3 L285.8 481.3 L286.8 481.17 L287.8 481.45 L288.8 481.2 L289.8 481.73 L290.8 481.46 L291.8 481.31 L292.8 481.77 L293 481.4 L293.2 405.9 L293.35 518.6 L293.6 450 L293.8 440.5 L294.16 438.54 L294.66 435.68 L295.31 432.75 L296.1 430.6 L297.09 429.48 L298.26 428.93 L299.5 428.71 L300.7 428.6 L301.87 428.62 L303.06 428.86 L304.2 429.19 L305.2 429.5 L306.09 429.79 L306.88 430.11 L307.54 430.4 L308 430.6 L308.3 362 L308.6 430 L309 467.9 L309 467.9 L310 472.97 L311 476.99 L312 480.25 L313 481.53 L314 482.57 L315 483.67 L316 484 L317 484.3 L318 484.66 L319 484.81 L320 484.76 L321 485.32 L322 485.65 L323 485.54 L324 485.6 L325 485.44 L326 485.67 L327 485.51 L328 486.23 L329 485.92 L330 486.04 L331 486.85 L332 486.32 L333 487.08 L334 486.83 L335 487.08 L335.7 486.9" fill="none" stroke="#3030ff" stroke-width="1.2" stroke-linejoin="round" stroke-linecap="butt" />
<path d="M74 491.6 L79.2 491.4 L79.3 491.2 L79.44 489.92 L79.63 488.07 L79.88 486.11 L80.2 484.5 L80.6 483.36 L81.06 482.44 L81.6 481.68 L82.2 481 L82.85 480.42 L83.56 479.98 L84.37 479.59 L85.3 479.2 L86.45 478.79 L87.77 478.39 L89.1 478.02 L90.3 477.7 L91.38 477.43 L92.41 477.21 L93.29 477.03 L93.9 476.9 L94.2 477.2 L94.55 477.84 L95.04 478.76 L95.66 479.78 L96.4 480.7 L97.27 481.5 L98.27 482.28 L99.36 483.01 L100.5 483.7 L101.7 484.35 L102.99 484.96 L104.3 485.52 L105.6 486 L106.76 486.39 L107.83 486.69 L109.07 486.95 L110.7 487.2 L112.89 487.44 L115.49 487.66 L118.24 487.84 L120.9 488 L123.65 488.12 L126.54 488.2 L129.13 488.26 L131 488.3 L131.87 488.32 L132.03 488.32 L131.87 488.31 L131.8 488.3 L132 482 L132.1 480.63 L132.24 478.65 L132.41 476.52 L132.6 474.7 L132.78 473.29 L132.97 472.05 L133.2 470.94 L133.5 469.9 L133.86 468.93 L134.27 468.05 L134.77 467.27 L135.4 466.6 L136.19 466.06 L137.12 465.63 L138.14 465.29 L139.2 465 L140.36 464.77 L141.63 464.61 L142.88 464.49 L144 464.4 L145.01 464.34 L145.95 464.31 L146.74 464.31 L147.3 464.3 L147.8 473.7 L148.1 474.4 L148.51 475.42 L149.05 476.52 L149.7 477.5 L150.5 478.31 L151.43 479.07 L152.44 479.77 L153.5 480.4 L154.61 480.96 L155.79 481.44 L157 481.88 L158.2 482.3 L159.4 482.69 L160.6 483.04 L161.8 483.38 L163 483.7 L164.18 484.03 L165.36 484.34 L166.53 484.64 L167.7 484.9 L168.76 485.12 L169.75 485.31 L170.89 485.46 L172.4 485.6 L174.52 485.71 L177.08 485.78 L179.67 485.84 L181.9 485.9 L183.77 485.96 L185.44 486.02 L186.82 486.07 L187.8 486.1 L188.4 467.5 L188.61 465.09 L188.92 461.57 L189.29 457.97 L189.7 455.3 L190.12 453.91 L190.57 453.23 L191.12 452.91 L191.8 452.6 L192.65 452.28 L193.64 452.12 L194.74 452.03 L195.9 451.9 L197.26 451.71 L198.78 451.51 L200.21 451.33 L201.3 451.2 L201.92 451.13 L202.24 451.11 L202.38 451.1 L202.5 451.1 L203.3 471.6 L203.63 472.35 L204.1 473.43 L204.69 474.6 L205.4 475.6 L206.23 476.38 L207.19 477.07 L208.26 477.7 L209.4 478.3 L210.59 478.88 L211.84 479.41 L213.22 479.92 L214.8 480.4 L216.66 480.87 L218.73 481.31 L220.89 481.73 L223 482.1 L225.03 482.43 L227.05 482.72 L229.07 482.97 L231.1 483.2 L233.31 483.4 L235.63 483.57 L237.74 483.7 L239.3 483.8 L240.12 483.84 L240.41 483.84 L240.45 483.81 L240.5 483.8 L241.1 452 L241.14 450.92 L241.18 449.36 L241.29 447.63 L241.5 446 L241.85 444.43 L242.3 442.81 L242.83 441.33 L243.4 440.2 L243.93 439.53 L244.45 439.19 L245.15 439.03 L246.2 438.9 L247.89 438.82 L250.03 438.84 L252.14 438.9 L253.7 438.9 L254.53 438.82 L254.92 438.7 L255.07 438.58 L255.2 438.5 L255.9 464.7 L256.12 465.93 L256.42 467.72 L256.84 469.62 L257.4 471.2 L258.13 472.34 L258.99 473.28 L259.99 474.1 L261.1 474.9 L262.37 475.69 L263.78 476.44 L265.26 477.11 L266.7 477.7 L268.01 478.17 L269.26 478.54 L270.63 478.87 L272.3 479.2 L274.39 479.56 L276.77 479.91 L279.27 480.23 L281.7 480.5 L284.2 480.72 L286.8 480.89 L289.18 481.02 L291 481.1 L292.1 481.12 L292.68 481.09 L292.97 481.03 L293.2 481 L293.6 452 L293.75 448.62 L293.96 443.69 L294.24 438.69 L294.6 435.1 L295.01 433.48 L295.48 432.98 L296.08 432.99 L296.9 432.9 L298 432.64 L299.31 432.51 L300.75 432.44 L302.2 432.4 L303.81 432.39 L305.58 432.42 L307.19 432.47 L308.3 432.5 L308.6 466.4 L309.04 467.1 L309.66 468.11 L310.43 469.22 L311.3 470.2 L312.32 471.02 L313.48 471.79 L314.71 472.52 L315.9 473.2 L316.98 473.84 L318.01 474.42 L319.14 474.98 L320.5 475.5 L322.22 476 L324.21 476.48 L326.24 476.92 L328.1 477.3 L329.87 477.63 L331.63 477.91 L333.14 478.14 L334.2 478.3" fill="none" stroke="#454545" stroke-width="1.45" stroke-linejoin="round" stroke-linecap="butt" />
<line x1="79.4" y1="484" x2="79.4" y2="495.7" stroke="#3535ff" stroke-width="1.1"/>
<line x1="94.1" y1="464.4" x2="94.1" y2="478" stroke="#3535ff" stroke-width="1.1"/>
<line x1="131.85" y1="461.9" x2="131.85" y2="499.3" stroke="#3535ff" stroke-width="1.1"/>
<line x1="147.5" y1="453.3" x2="147.5" y2="466" stroke="#3535ff" stroke-width="1.1"/>
<line x1="188.05" y1="445.1" x2="188.05" y2="498.7" stroke="#3535ff" stroke-width="1.1"/>
<line x1="202.6" y1="427.5" x2="202.6" y2="452" stroke="#3535ff" stroke-width="1.1"/>
<line x1="240.65" y1="422.7" x2="240.65" y2="509.3" stroke="#3535ff" stroke-width="1.1"/>
<line x1="255.4" y1="397.5" x2="255.4" y2="440" stroke="#3535ff" stroke-width="1.1"/>
<line x1="293.25" y1="405.9" x2="293.25" y2="518.6" stroke="#3535ff" stroke-width="1.1"/>
<line x1="308.3" y1="362" x2="308.3" y2="432" stroke="#3535ff" stroke-width="1.1"/>
<text x="118.1" y="341.2" font-family='"Liberation Serif", serif' font-size="14.4" font-weight="bold" fill="#000" stroke="#000" stroke-width="0.3" font-style="italic" textLength="131.8" lengthAdjust="spacingAndGlyphs">Single-cycle kinetic of</text>
<text x="77.8" y="357.3" font-family='"Liberation Serif", serif' font-size="14.4" font-weight="bold" fill="#000" stroke="#000" stroke-width="0.3" font-style="italic" textLength="207.2" lengthAdjust="spacingAndGlyphs">purified ectoLRP4 binding to ColQ</text>
<text x="85.1" y="461.4" font-family='"Liberation Serif", serif' font-size="9.2" font-weight="bold" fill="#000" stroke="#000" stroke-width="0.3" text-anchor="middle">296</text>
<text x="85.1" y="472.8" font-family='"Liberation Serif", serif' font-size="9.2" font-weight="bold" fill="#000" stroke="#000" stroke-width="0.3" text-anchor="middle">nM</text>
<text x="138.3" y="442" font-family='"Liberation Serif", serif' font-size="9.2" font-weight="bold" fill="#000" stroke="#000" stroke-width="0.3" text-anchor="middle">444</text>
<text x="138.3" y="453.4" font-family='"Liberation Serif", serif' font-size="9.2" font-weight="bold" fill="#000" stroke="#000" stroke-width="0.3" text-anchor="middle">nM</text>
<text x="192.7" y="424.6" font-family='"Liberation Serif", serif' font-size="9.2" font-weight="bold" fill="#000" stroke="#000" stroke-width="0.3" text-anchor="middle">666</text>
<text x="192.7" y="436" font-family='"Liberation Serif", serif' font-size="9.2" font-weight="bold" fill="#000" stroke="#000" stroke-width="0.3" text-anchor="middle">nM</text>
<text x="244.9" y="408" font-family='"Liberation Serif", serif' font-size="9.2" font-weight="bold" fill="#000" stroke="#000" stroke-width="0.3" text-anchor="middle">1000</text>
<text x="244.9" y="419.4" font-family='"Liberation Serif", serif' font-size="9.2" font-weight="bold" fill="#000" stroke="#000" stroke-width="0.3" text-anchor="middle">nM</text>
<text x="298" y="392" font-family='"Liberation Serif", serif' font-size="9.2" font-weight="bold" fill="#000" stroke="#000" stroke-width="0.3" text-anchor="middle">1500</text>
<text x="298" y="403.4" font-family='"Liberation Serif", serif' font-size="9.2" font-weight="bold" fill="#000" stroke="#000" stroke-width="0.3" text-anchor="middle">nM</text>
<text x="170.3" y="581.7" font-family='"Liberation Serif", serif' font-size="14.2" font-weight="bold" fill="#000" stroke="#000" stroke-width="0.3" textLength="62.1" lengthAdjust="spacingAndGlyphs">Time (sec)</text>
<text x="17.3" y="493.4" font-family='"Liberation Serif", serif' font-size="14.2" font-weight="bold" fill="#000" stroke="#000" stroke-width="0.3" textLength="116.5" lengthAdjust="spacingAndGlyphs" transform="rotate(-90 17.3 493.4)">SPR response (RU)</text>
<text x="391.2" y="327.3" font-family='"Liberation Sans", sans-serif' font-size="19" font-weight="bold" fill="#000">D</text>
<line x1="442.2" y1="363.4" x2="442.2" y2="539.4" stroke="#4a4a4a" stroke-width="1.2"/>
<line x1="442.2" y1="538.6" x2="729.3" y2="538.6" stroke="#4a4a4a" stroke-width="1.2"/>
<line x1="440.6" y1="538.45" x2="443.2" y2="538.45" stroke="#4a4a4a" stroke-width="1.0"/>
<line x1="440.6" y1="520.9" x2="443.2" y2="520.9" stroke="#4a4a4a" stroke-width="1.0"/>
<line x1="440.6" y1="503.35" x2="443.2" y2="503.35" stroke="#4a4a4a" stroke-width="1.0"/>
<line x1="440.6" y1="485.8" x2="443.2" y2="485.8" stroke="#4a4a4a" stroke-width="1.0"/>
<line x1="440.6" y1="468.25" x2="443.2" y2="468.25" stroke="#4a4a4a" stroke-width="1.0"/>
<line x1="440.6" y1="450.7" x2="443.2" y2="450.7" stroke="#4a4a4a" stroke-width="1.0"/>
<line x1="440.6" y1="433.15" x2="443.2" y2="433.15" stroke="#4a4a4a" stroke-width="1.0"/>
<line x1="440.6" y1="415.6" x2="443.2" y2="415.6" stroke="#4a4a4a" stroke-width="1.0"/>
<line x1="440.6" y1="398.05" x2="443.2" y2="398.05" stroke="#4a4a4a" stroke-width="1.0"/>
<line x1="440.6" y1="380.5" x2="443.2" y2="380.5" stroke="#4a4a4a" stroke-width="1.0"/>
<line x1="440.6" y1="362.95" x2="443.2" y2="362.95" stroke="#4a4a4a" stroke-width="1.0"/>
<text x="0" y="0" transform="translate(439.2 525.03) scale(1 1.11)" font-family='"Liberation Serif", serif' font-size="11" font-weight="bold" fill="#000" stroke="#000" stroke-width="0.3" text-anchor="end">0</text>
<text x="0" y="0" transform="translate(439.2 507.48) scale(1 1.11)" font-family='"Liberation Serif", serif' font-size="11" font-weight="bold" fill="#000" stroke="#000" stroke-width="0.3" text-anchor="end">5</text>
<text x="0" y="0" transform="translate(439.2 489.93) scale(1 1.11)" font-family='"Liberation Serif", serif' font-size="11" font-weight="bold" fill="#000" stroke="#000" stroke-width="0.3" text-anchor="end">10</text>
<text x="0" y="0" transform="translate(439.2 472.38) scale(1 1.11)" font-family='"Liberation Serif", serif' font-size="11" font-weight="bold" fill="#000" stroke="#000" stroke-width="0.3" text-anchor="end">15</text>
<text x="0" y="0" transform="translate(439.2 454.83) scale(1 1.11)" font-family='"Liberation Serif", serif' font-size="11" font-weight="bold" fill="#000" stroke="#000" stroke-width="0.3" text-anchor="end">20</text>
<text x="0" y="0" transform="translate(439.2 437.28) scale(1 1.11)" font-family='"Liberation Serif", serif' font-size="11" font-weight="bold" fill="#000" stroke="#000" stroke-width="0.3" text-anchor="end">25</text>
<text x="0" y="0" transform="translate(439.2 419.73) scale(1 1.11)" font-family='"Liberation Serif", serif' font-size="11" font-weight="bold" fill="#000" stroke="#000" stroke-width="0.3" text-anchor="end">30</text>
<text x="0" y="0" transform="translate(439.2 402.18) scale(1 1.11)" font-family='"Liberation Serif", serif' font-size="11" font-weight="bold" fill="#000" stroke="#000" stroke-width="0.3" text-anchor="end">35</text>
<text x="0" y="0" transform="translate(439.2 384.63) scale(1 1.11)" font-family='"Liberation Serif", serif' font-size="11" font-weight="bold" fill="#000" stroke="#000" stroke-width="0.3" text-anchor="end">40</text>
<text x="0" y="0" transform="translate(439.2 367.08) scale(1 1.11)" font-family='"Liberation Serif", serif' font-size="11" font-weight="bold" fill="#000" stroke="#000" stroke-width="0.3" text-anchor="end">45</text>
<line x1="442.29" y1="537.6" x2="442.29" y2="540.1" stroke="#4a4a4a" stroke-width="1.0"/>
<line x1="460.21" y1="537.6" x2="460.21" y2="539.4" stroke="#4a4a4a" stroke-width="1.0"/>
<line x1="478.14" y1="537.6" x2="478.14" y2="540.1" stroke="#4a4a4a" stroke-width="1.0"/>
<line x1="496.06" y1="537.6" x2="496.06" y2="539.4" stroke="#4a4a4a" stroke-width="1.0"/>
<line x1="513.99" y1="537.6" x2="513.99" y2="540.1" stroke="#4a4a4a" stroke-width="1.0"/>
<line x1="531.91" y1="537.6" x2="531.91" y2="539.4" stroke="#4a4a4a" stroke-width="1.0"/>
<line x1="549.84" y1="537.6" x2="549.84" y2="540.1" stroke="#4a4a4a" stroke-width="1.0"/>
<line x1="567.76" y1="537.6" x2="567.76" y2="539.4" stroke="#4a4a4a" stroke-width="1.0"/>
<line x1="585.69" y1="537.6" x2="585.69" y2="540.1" stroke="#4a4a4a" stroke-width="1.0"/>
<line x1="603.62" y1="537.6" x2="603.62" y2="539.4" stroke="#4a4a4a" stroke-width="1.0"/>
<line x1="621.54" y1="537.6" x2="621.54" y2="540.1" stroke="#4a4a4a" stroke-width="1.0"/>
<line x1="639.46" y1="537.6" x2="639.46" y2="539.4" stroke="#4a4a4a" stroke-width="1.0"/>
<line x1="657.39" y1="537.6" x2="657.39" y2="540.1" stroke="#4a4a4a" stroke-width="1.0"/>
<line x1="675.31" y1="537.6" x2="675.31" y2="539.4" stroke="#4a4a4a" stroke-width="1.0"/>
<line x1="693.24" y1="537.6" x2="693.24" y2="540.1" stroke="#4a4a4a" stroke-width="1.0"/>
<line x1="711.16" y1="537.6" x2="711.16" y2="539.4" stroke="#4a4a4a" stroke-width="1.0"/>
<line x1="729.09" y1="537.6" x2="729.09" y2="540.1" stroke="#4a4a4a" stroke-width="1.0"/>
<text x="0" y="0" transform="translate(477.74 553) scale(1 1.11)" font-family='"Liberation Serif", serif' font-size="11" font-weight="bold" fill="#000" stroke="#000" stroke-width="0.3" text-anchor="middle">0</text>
<text x="0" y="0" transform="translate(513.59 553) scale(1 1.11)" font-family='"Liberation Serif", serif' font-size="11" font-weight="bold" fill="#000" stroke="#000" stroke-width="0.3" text-anchor="middle">100</text>
<text x="0" y="0" transform="translate(549.44 553) scale(1 1.11)" font-family='"Liberation Serif", serif' font-size="11" font-weight="bold" fill="#000" stroke="#000" stroke-width="0.3" text-anchor="middle">200</text>
<text x="0" y="0" transform="translate(585.29 553) scale(1 1.11)" font-family='"Liberation Serif", serif' font-size="11" font-weight="bold" fill="#000" stroke="#000" stroke-width="0.3" text-anchor="middle">300</text>
<text x="0" y="0" transform="translate(621.14 553) scale(1 1.11)" font-family='"Liberation Serif", serif' font-size="11" font-weight="bold" fill="#000" stroke="#000" stroke-width="0.3" text-anchor="middle">400</text>
<text x="0" y="0" transform="translate(656.99 553) scale(1 1.11)" font-family='"Liberation Serif", serif' font-size="11" font-weight="bold" fill="#000" stroke="#000" stroke-width="0.3" text-anchor="middle">500</text>
<text x="0" y="0" transform="translate(692.84 553) scale(1 1.11)" font-family='"Liberation Serif", serif' font-size="11" font-weight="bold" fill="#000" stroke="#000" stroke-width="0.3" text-anchor="middle">600</text>
<text x="0" y="0" transform="translate(728.69 553) scale(1 1.11)" font-family='"Liberation Serif", serif' font-size="11" font-weight="bold" fill="#000" stroke="#000" stroke-width="0.3" text-anchor="middle">700</text>
<line x1="442.2" y1="520.7" x2="730.1" y2="520.7" stroke="#555" stroke-width="1.3"/>
<clipPath id="clipD"><rect x="442" y="363.1" width="290" height="175.5"/></clipPath>
<path d="M476 520.5 L476.6 514.7 L477.5 517 L478 520 L478 340 L478.1 538.4 L481.4 538.2 L484.4 519.6 L487.3 515.7 L488.3 514.82 L489.3 514.65 L490.3 514.69 L491.3 514.74 L492.3 513.79 L493.3 513.47 L494.3 513.31 L495.3 513.68 L496.3 512.78 L497.3 513.33 L498.3 513.07 L499.3 512.27 L500.3 512.59 L501.3 512.31 L502.3 512.11 L503.3 512.64 L504.3 511.39 L505.3 511.02 L506.3 511.72 L507.3 510.68 L508.3 510.03 L509.3 509.79 L510.3 509.43 L511.3 509.73 L512.3 508.44 L513.3 508.04 L514.3 508.08 L515.3 508.04 L516.3 508.64 L517.3 508.61 L518.3 508.14 L519.3 508.07 L520.3 508.83 L521.3 508.76 L522.3 507.36 L523.3 507.96 L524.3 507.87 L525.3 507.36 L526.3 506.59 L527.3 507.03 L528.3 506.7 L529.3 505.81 L530.3 506.09 L531.3 505.31 L532.3 504.8 L533.3 504.85 L534.3 504.54 L535.3 504.31 L536.3 504.31 L537.3 504.24 L538.3 504.08 L539.3 503.8 L540.3 503.52 L541.3 502.97 L542.3 502.18 L543.3 501.87 L544.3 502.26 L545.3 502.02 L546.3 502.03 L547.3 501.18 L548.3 501.15 L549.3 501.88 L550.3 501.35 L551.3 501.31 L552.3 500.44 L553.3 500.62 L554.3 501.03 L555.3 500.51 L556.3 500.72 L557.3 499.57 L558.3 499.68 L559.3 499.89 L560.3 499.26 L561.3 499.47 L562.3 499 L563.3 498.26 L564.3 498.04 L565.3 498.91 L566.3 497.68 L567.3 497.57 L568.3 497.55 L569.3 497.81 L570.3 497.78 L571.3 497.13 L572.3 496.97 L573.3 497.12 L574.3 496.3 L575.3 496.09 L576.3 496.06 L577.3 495.77 L578.3 494.73 L579.3 494.49 L580.3 494.2 L581.3 494.59 L582.3 494.22 L582.9 493.8 L584 499.8 L585 499 L585.6 530 L586.3 440 L586.6 428.1 L587.4 445 L587.72 449.88 L588.18 456.93 L588.69 464.49 L589.2 470.9 L589.66 475.93 L590.12 480.39 L590.63 484.19 L591.2 487.2 L591.8 489.18 L592.44 490.25 L593.2 490.9 L594.2 491.6 L595.67 492.46 L597.49 493.23 L599.21 493.85 L600.4 494.3 L600.4 494.3 L601.4 494.09 L602.4 494.55 L603.4 494.95 L604.4 495.97 L605.4 495.78 L606.4 496.35 L607.4 495.9 L608.4 496.69 L609.4 497.38 L610.4 497.3 L611.4 498.01 L612.4 498.13 L613.4 497.71 L614.4 497.47 L615.4 498.57 L616.4 498.01 L617.4 498.06 L618.4 499.13 L619.4 499.46 L620.4 499.65 L621.4 499.91 L622.4 499.11 L623.4 499.06 L624.4 499.21 L625.4 500.33 L626.4 499.39 L627.4 499.55 L628.4 499.48 L629.4 499.61 L630.4 499.7 L631.4 500.15 L632.4 499.98 L633.4 500.21 L634.4 501 L635.4 500.14 L636.4 500.98 L637.4 500.94 L638.4 500.79 L639.4 500.85 L640.4 501.14 L641.4 500.97 L642.4 500.6 L643.4 500.77 L644.4 500.72 L645.4 500.97 L646.4 501.72 L647.4 501.11 L648.4 500.73 L649.4 501.27 L650.4 501.73 L651.4 501.34 L652.4 501.68 L653.4 500.97 L654.4 500.97 L655.4 501.72 L656.4 501.01 L657.4 501.34 L658.4 501.47 L659.4 501.27 L660.4 501.11 L661.4 501.11 L662.4 502.27 L663.4 501.99 L664.4 502.33 L665.4 501.81 L666.4 502.39 L667.4 502.31 L668.4 502.05 L669.4 501.97 L670.4 501.98 L671.4 501.66 L672.4 501.84 L673.4 502.23 L674.4 501.58 L675.4 502.35 L676.4 501.92 L677.4 502.01 L678.4 502.25 L679.4 502.02 L680.4 501.39 L681.4 501.5 L682.4 501.19 L683.4 501.2 L684.4 502.29 L685.4 501.84 L686.4 502.27 L687.4 502.03 L688.4 501.45 L689.4 502.21 L690.4 502.14 L691.4 501.56 L691.9 501.6 L702 500.8 L704.1 498.6 L705 501 L708.2 500.4" fill="none" stroke="#8a8a8a" stroke-width="1.2" stroke-linejoin="round" stroke-linecap="butt" clip-path="url(#clipD)"/>
<line x1="478" y1="363.1" x2="478" y2="538.4" stroke="#8a8a8a" stroke-width="1.7"/>
<path d="M466.6 520.3 L467.6 520.45 L468.6 520.56 L469.6 520.76 L470.6 521.69 L471.6 521.49 L472.6 521.74 L473.6 521.62 L474.6 521.39 L475.6 521.69 L476.6 521.48 L477.3 520.5 L477.9 521.5 L478 538.6 L480.8 538.6 L481.3 507.9 L481.37 504.39 L481.47 499.36 L481.61 493.72 L481.8 488.4 L482.05 483.55 L482.34 478.7 L482.67 473.85 L483 469 L483.31 463.95 L483.62 458.77 L483.97 453.83 L484.4 449.5 L484.94 445.94 L485.56 442.92 L486.2 440.27 L486.8 437.8 L487.35 435.53 L487.88 433.53 L488.37 431.72 L488.8 430 L489.1 428.53 L489.31 427.29 L489.56 425.96 L490 424.2 L490.68 421.77 L491.51 418.89 L492.44 415.95 L493.4 413.3 L494.33 411.12 L495.29 409.18 L496.35 407.28 L497.6 405.2 L499.16 402.72 L500.95 400.02 L502.77 397.45 L504.4 395.4 L505.78 394.03 L507.02 393.12 L508.21 392.46 L509.4 391.8 L510.73 391.1 L512.11 390.48 L513.34 389.96 L514.2 389.6 L514.2 389.6 L515.2 393.11 L516.2 393.86 L517.2 394.26 L518.2 394.33 L519.2 395.03 L520.2 395.09 L521.2 395.44 L522.2 394.61 L523.2 395.04 L524.2 394.66 L525.2 394.92 L526.2 395.29 L527.2 394.44 L528.2 394.22 L529.2 394.29 L530.2 393.76 L531.2 392.99 L532.2 393.19 L533.2 393.73 L534.2 391.9 L535.2 388.92 L536.2 388.28 L537.2 387.74 L538.2 387.39 L539.2 388.12 L540.2 387.32 L541.2 387.07 L542.2 387.09 L543.2 387.93 L544.2 387.68 L545.2 387.92 L546.2 387.85 L547.2 387.65 L548.2 388.14 L549.2 387.5 L550.2 387.71 L551.2 388.03 L552.2 387.81 L553.2 388.1 L554.2 387.8 L555.2 387.95 L556.2 387.24 L557.2 387.46 L558.2 387.54 L559.2 387.33 L560.2 387.51 L561.2 387.41 L562.2 387.64 L563.2 388.08 L564.2 387.82 L565.2 387.87 L566.2 387.73 L567.2 387.83 L568.2 388.61 L569.2 388.33 L570.2 388.4 L571.2 388.33 L572.2 389.36 L573.2 389.15 L574.2 389.14 L575.2 389.4 L576.2 388.6 L577.2 388.01 L578.2 387.52 L579.2 387.07 L580.2 387.15 L581.2 387.05 L582.2 387.34 L583.2 388.21 L583.9 388.9 L584.2 393 L584.9 395 L585.4 545 L585.6 340 L588.4 340 L588.6 363.1 L588.9 375.3 L589.6 395.3 L589.6 395.3 L590.8 404.89 L592 412.54 L593.2 417.08 L594.4 421.16 L595.6 424.2 L596.8 426.54 L598 427.86 L599.2 429.23 L600.4 430.03 L601.6 431.72 L602.8 432.88 L604 434.56 L605.2 435.44 L606.4 436.83 L607.6 437.67 L608.8 438.59 L610 440.47 L611.2 441.67 L612.4 442.46 L613.6 443.39 L614.8 444.95 L616 446.02 L617.2 447.32 L618.4 448.15 L619.6 449.02 L620.8 450.04 L622 450.76 L623.2 451.35 L624.4 452.25 L625.6 454.03 L626.8 454.78 L628 455.08 L629.2 456.46 L630.4 456.87 L631.6 457.13 L632.8 458.53 L634 458.86 L635.2 459.77 L636.4 460.09 L637.6 460.1 L638.8 461.24 L640 462.06 L641.2 462.85 L642.4 462.97 L643.6 463.88 L644.8 464.78 L646 465.06 L647.2 466.58 L648.4 467.38 L649.6 467.41 L650.8 468.66 L652 469.02 L653.2 469.37 L654.4 470.32 L655.6 471.15 L656.8 471.19 L658 471.22 L659.2 472.06 L660.4 472.8 L661.6 473.43 L662.8 473.67 L664 473.47 L665.2 474.86 L666.4 474.96 L667.6 474.91 L668.8 475.41 L670 475.8 L671.2 476.82 L672.4 476.73 L673.6 477.79 L674.8 477.5 L676 478.31 L677.2 478.6 L678.4 478.58 L679.6 478.88 L680.8 480.12 L682 480.52 L683.2 479.96 L684.4 480.86 L685.6 481.38 L686.8 481.54 L688 481.77 L689.2 481.45 L690.4 482.05 L691.6 482.04 L692.8 482.66 L694 482.6 L695.2 482.91 L696.4 483.07 L697.6 482.74 L698.8 483.2 L700 482.76 L701.2 483.07 L702.4 484.02 L703.6 483.81 L704.8 484.43 L706 484.76 L707.2 484.88 L708.2 485.5" fill="none" stroke="#2424ff" stroke-width="1.25" stroke-linejoin="round" stroke-linecap="butt" clip-path="url(#clipD)"/>
<line x1="585.5" y1="363.1" x2="585.5" y2="538.6" stroke="#2424ff" stroke-width="1.6"/>
<line x1="478" y1="369.2" x2="478" y2="394" stroke="#3232d8" stroke-width="1.6"/>
<line x1="478" y1="480.5" x2="478" y2="538.6" stroke="#3838b0" stroke-width="1.7"/>
<text x="476.7" y="343.2" font-family='"Liberation Serif", serif' font-size="14.3" font-weight="bold" fill="#000" stroke="#000" stroke-width="0.3" font-style="italic" textLength="215" lengthAdjust="spacingAndGlyphs">Binding of ectoLRP4 in CM to ColQ</text>
<text x="631.9" y="434.2" font-family='"Liberation Serif", serif' font-size="14" font-weight="bold" fill="#0000ee" stroke="#0000ee" stroke-width="0.3" textLength="86.1" lengthAdjust="spacingAndGlyphs">ectoLRP4 CM</text>
<text x="631.9" y="450.5" font-family='"Liberation Serif", serif' font-size="14" font-weight="bold" fill="#0000ee" stroke="#0000ee" stroke-width="0.3" textLength="47" lengthAdjust="spacingAndGlyphs">(34 RU)</text>
<text x="630.9" y="498.3" font-family='"Liberation Serif", serif' font-size="14" font-weight="bold" fill="#7f7f7f" stroke="#7f7f7f" stroke-width="0.3" textLength="70.2" lengthAdjust="spacingAndGlyphs">control CM</text>
<text x="630.9" y="514" font-family='"Liberation Serif", serif' font-size="14" font-weight="bold" fill="#7f7f7f" stroke="#7f7f7f" stroke-width="0.3" textLength="40" lengthAdjust="spacingAndGlyphs">(8 RU)</text>
<text x="556.8" y="586.2" font-family='"Liberation Serif", serif' font-size="14.2" font-weight="bold" fill="#000" stroke="#000" stroke-width="0.3" textLength="62.3" lengthAdjust="spacingAndGlyphs">Time (sec)</text>
<text x="403.7" y="494.1" font-family='"Liberation Serif", serif' font-size="14.2" font-weight="bold" fill="#000" stroke="#000" stroke-width="0.3" textLength="116.3" lengthAdjust="spacingAndGlyphs" transform="rotate(-90 403.7 494.1)">SPR response (RU)</text>
</svg></body></html>
